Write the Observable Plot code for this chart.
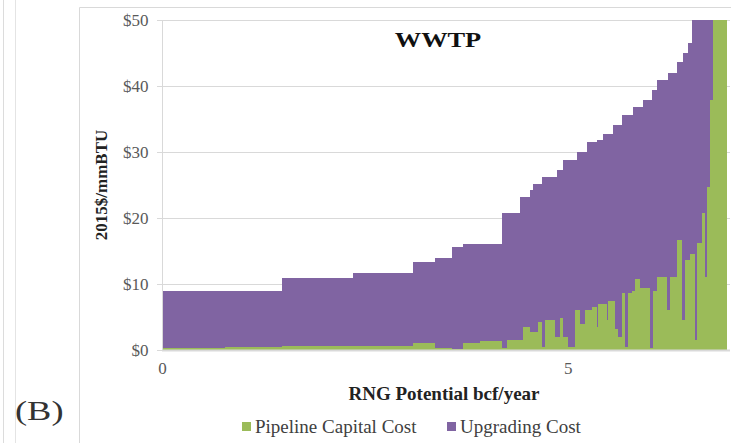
<!DOCTYPE html>
<html>
<head>
<meta charset="utf-8">
<script src="https://cdn.jsdelivr.net/npm/d3@7"></script>
<script src="https://cdn.jsdelivr.net/npm/@observablehq/plot@0.6"></script>
<style>
  body { margin: 0; background: #fff; }
  #wrap { position: relative; width: 731px; height: 443px; overflow: hidden; font-family: "Liberation Serif", "Times New Roman", serif; }
  #wrap > svg, #chart > svg { position: absolute; left: 0; top: 0; }
  #notes { pointer-events: none; }
</style>
</head>
<body>
<div id="wrap">
  <div id="chart"></div>
  <svg id="notes" width="731" height="443" font-family="Liberation Serif, Times New Roman, serif">
    <line x1="3.5" y1="0" x2="3.5" y2="443" stroke="#dcdcdc"/>
    <line x1="15.5" y1="0" x2="15.5" y2="443" stroke="#e4e4e4"/>
    <path d="M79.5,443V7.5H731" fill="none" stroke="#d9d9d9"/>
    <text transform="translate(438,47) scale(1.2,1)" text-anchor="middle" font-weight="bold" font-size="22" fill="#111">WWTP</text>
    <text transform="translate(107,185) rotate(-90)" text-anchor="middle" font-weight="bold" font-size="17" fill="#222">2015$/mmBTU</text>
    <text x="444" y="400" text-anchor="middle" font-weight="bold" font-size="19" fill="#222">RNG Potential bcf/year</text>
    <rect x="242" y="422" width="9" height="9" fill="#9bbb59"/>
    <text x="255" y="433" font-size="19" fill="#404040">Pipeline Capital Cost</text>
    <rect x="447" y="422" width="9" height="9" fill="#8064a2"/>
    <text x="460" y="433" font-size="19" fill="#404040">Upgrading Cost</text>
    <text transform="translate(15,420) scale(1.3,1)" font-size="28" fill="#333">(B)</text>
  </svg>
</div>
<script>
// Cumulative RNG potential (bcf/year) at the right edge of each WWTP site
const potential = [
  0.777, 1.480, 2.355, 3.095, 3.366, 3.576, 3.711, 3.921, 4.192, 4.254,
  4.414, 4.451, 4.538, 4.575, 4.636, 4.686, 4.723, 4.846, 4.870, 4.908,
  4.945, 5.006, 5.092, 5.117, 5.154, 5.216, 5.240, 5.302, 5.364, 5.376,
  5.438, 5.487, 5.499, 5.561, 5.586, 5.623, 5.672, 5.709, 5.746, 5.795,
  5.808, 5.832, 5.894, 5.931, 6.017, 6.042, 6.054, 6.104, 6.227, 6.240,
  6.264, 6.350, 6.412, 6.424, 6.449, 6.486, 6.510, 6.535, 6.572, 6.597,
  6.658, 6.695, 6.720, 6.757, 6.794, 6.967
];

// Pipeline capital cost per site (2015$/mmBTU)
const pipelineCost = [
  0.3, 0.4, 0.6, 0.6, 1.0, 0.3, 0.2, 1.1, 1.4, 0.3,
  1.5, 1.5, 3.5, 2.7, 2.7, 4.2, 0.5, 4.5, 2.0, 2.0,
  4.8, 2.0, 0.5, 6.1, 6.1, 4.0, 6.1, 6.1, 6.5, 3.5,
  7.0, 7.0, 4.5, 7.5, 7.5, 3.2, 2.0, 8.6, 0.5, 8.6,
  9.0, 9.0, 10.8, 9.4, 9.4, 0.3, 0.3, 9.0, 11.0, 6.0,
  6.0, 11.1, 16.7, 4.5, 4.5, 13.6, 13.6, 14.5, 14.5, 1.5,
  16.2, 20.8, 11.0, 24.7, 37.9, 50.0
];

// Upgrading cost per site (2015$/mmBTU)
const upgradingCost = [
  8.6, 8.6, 10.3, 11.1, 12.3, 13.6, 15.4, 14.9, 14.6, 20.5,
  19.3, 21.7, 19.7, 21.5, 22.5, 21.0, 25.7, 21.7, 24.2, 25.3,
  22.5, 26.8, 28.3, 22.7, 23.9, 26.0, 23.9, 25.4, 25.0, 28.3,
  24.8, 25.8, 28.3, 25.3, 26.6, 30.9, 32.1, 27.0, 35.1, 27.0,
  26.6, 27.8, 26.0, 27.4, 28.5, 37.6, 39.1, 30.4, 29.9, 34.9,
  36.0, 30.9, 26.9, 39.1, 40.5, 31.4, 32.9, 32.0, 35.5, 48.5,
  33.8, 29.2, 39.0, 25.3, 12.1, 0.0
];

const yTicks = [0, 10, 20, 30, 40, 50];
const xTicks = [0, 5];

const green = "#9bbb59";
const purple = "#8064a2";
const serif = "Liberation Serif, Times New Roman, serif";

// One row per site: horizontal extent and the two stacked cost components
const sites = potential.map((x2, i) => ({
  x1: i === 0 ? 0 : potential[i - 1],
  x2,
  pipeline: pipelineCost[i],
  total: pipelineCost[i] + upgradingCost[i]
}));

const chart = Plot.plot({
  width: 731,
  height: 443,
  marginLeft: 162,
  marginRight: 1,
  marginTop: 20,
  marginBottom: 93,
  style: { fontFamily: serif, background: "transparent" },
  x: { domain: [0, 7] },
  y: { domain: [0, 50] },
  marks: [
    Plot.ruleY(yTicks.slice(1), { stroke: "#d9d9d9" }),
    Plot.rect(sites, { x1: "x1", x2: "x2", y1: 0, y2: "pipeline", fill: green, shapeRendering: "crispEdges" }),
    Plot.rect(sites, { x1: "x1", x2: "x2", y1: "pipeline", y2: "total", fill: purple, shapeRendering: "crispEdges" }),
    Plot.ruleY([0], { stroke: "#d9d9d9", strokeWidth: 2 }),
    Plot.ruleX([0], { stroke: "#d9d9d9" }),
    Plot.axisY(yTicks, { tickSize: 5, stroke: "#d9d9d9", tickFormat: () => "", label: null }),
    Plot.axisY(yTicks, { tickSize: 0, tickPadding: 14, tickFormat: d => "$" + d, fill: "#595959", fontSize: 17, fontFamily: serif, label: null }),
    Plot.axisX(xTicks, { tickSize: 0, tickPadding: 11, tickFormat: d => String(d), fill: "#595959", fontSize: 17, fontFamily: serif, label: null })
  ]
});

// Tick labels use the same serif face as the rest of the figure
d3.select(chart).selectAll("text").style("font-family", serif);

document.getElementById("chart").appendChild(chart);
</script>
</body>
</html>
